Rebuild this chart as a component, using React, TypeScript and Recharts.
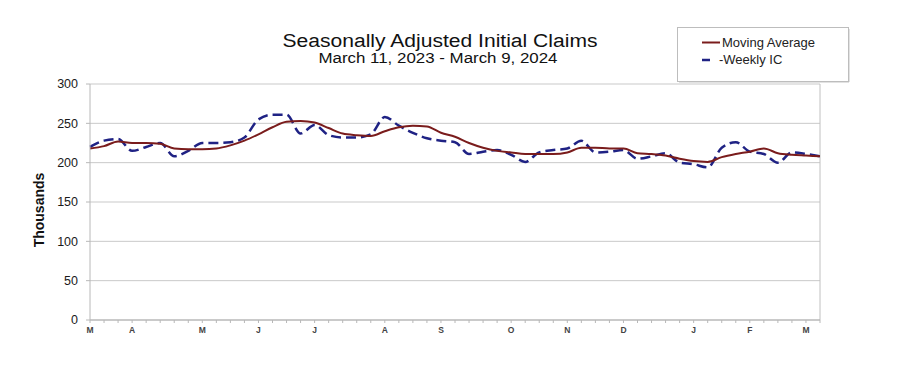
import React from 'react';
import { LineChart, Line, XAxis, YAxis, CartesianGrid, ReferenceLine } from 'recharts';

// weekly values, Mar 11 2023 .. Mar 9 2024 (thousands)
const weeklyIC = [
  220, 228, 230, 215, 220, 225, 208, 215, 225, 225, 226, 232, 255, 261, 261, 237, 248, 235,
  232, 232, 236, 258, 247, 238, 231, 228, 226, 211, 214, 216, 210, 201, 213, 216, 218, 228,
  213, 214, 216, 205, 208, 212, 200, 198, 194, 219, 226, 214, 211, 200, 213, 211, 208,
];
const movingAvg = [
  218, 221, 227, 225, 225, 224, 218, 217, 217, 218, 222, 228, 236, 245, 252, 253, 251, 244,
  237, 235, 234, 240, 245, 247, 246, 238, 233, 225, 219, 215, 213, 211, 211, 211, 213, 219,
  219, 218, 218, 212, 211, 209, 205, 202, 201, 207, 211, 214, 218, 212, 210, 209, 208,
];
const monthLabels = ['M', 'A', 'M', 'J', 'J', 'A', 'S', 'O', 'N', 'D', 'J', 'F', 'M'];
const monthStartWeeks = [0, 3, 8, 12, 16, 21, 25, 30, 34, 38, 43, 47, 51];
const yTicks = [0, 50, 100, 150, 200, 250, 300];

const weeks = weeklyIC.map((_, i) => i);
const data = weeks.map((w) => ({ week: w, ic: weeklyIC[w], ma: movingAvg[w] }));

const FONT = '"Liberation Sans", Arial, sans-serif';
const MA_COLOR = '#7a1c1c';
const IC_COLOR = '#1f2284';

const MonthTick = ({ x, y, payload }: any) => {
  const idx = monthStartWeeks.indexOf(payload.value);
  if (idx < 0) return <g />;
  return (
    <text x={x} y={y} dy="0.71em" textAnchor="middle" fontSize={8.5} fontWeight="bold" fill="#444" fontFamily={FONT}>
      {monthLabels[idx]}
    </text>
  );
};

const LegendBox = () => (
  <svg width={174} height={57} style={{ position: 'absolute', left: 677, top: 27 }}>
    <rect x={0.5} y={0.5} width={171} height={54} fill="#fff" stroke="#bdbdbd" />
    <line x1={2} y1={55.5} x2={172} y2={55.5} stroke="#e2e2e2" />
    <line x1={172.5} y1={2} x2={172.5} y2={55} stroke="#e2e2e2" />
    <line x1={25} y1={15.5} x2={43} y2={15.5} stroke={MA_COLOR} strokeWidth={2} />
    <text x={45} y={19.5} fontSize={13} fill="#222" fontFamily={FONT}>Moving Average</text>
    <line x1={25} y1={33} x2={33} y2={33} stroke={IC_COLOR} strokeWidth={2.5} />
    <text x={42} y={37} fontSize={13} fill="#222" fontFamily={FONT}>-Weekly IC</text>
  </svg>
);

export default function App() {
  return (
    <div style={{ position: 'absolute', left: 0, top: 0, width: 900, height: 374, background: '#fff', fontFamily: FONT }}>
      <LineChart width={900} height={374} data={data} margin={{ top: 84, right: 80, bottom: 24, left: 40 }}>
        <CartesianGrid vertical={false} stroke="#c9c9c9" />
        <XAxis
          dataKey="week"
          type="number"
          domain={[0, 52]}
          ticks={weeks}
          interval={0}
          height={30}
          axisLine={{ stroke: '#b0b0b0' }}
          tickLine={{ stroke: '#b8b8b8' }}
          tickSize={3}
          tickMargin={4}
          tick={<MonthTick />}
        />
        <YAxis
          domain={[0, 300]}
          ticks={yTicks}
          interval={0}
          width={50}
          axisLine={{ stroke: '#b8b8b8' }}
          tickLine={{ stroke: '#b8b8b8' }}
          tickSize={4}
          tickMargin={8}
          tick={{ fill: '#1a1a1a', fontSize: 12.5, fontFamily: FONT }}
        />
        <ReferenceLine x={52} stroke="#c0c0c0" />
        <Line
          type="monotone"
          dataKey="ic"
          stroke={IC_COLOR}
          strokeWidth={2.5}
          strokeDasharray="10 5"
          dot={false}
          activeDot={false}
          isAnimationActive={false}
        />
        <Line
          type="monotone"
          dataKey="ma"
          stroke={MA_COLOR}
          strokeWidth={2}
          dot={false}
          activeDot={false}
          isAnimationActive={false}
        />
      </LineChart>
      <LegendBox />
      <svg width={900} height={374} style={{ position: 'absolute', left: 0, top: 0, pointerEvents: 'none' }}>
        <text x={440} y={47} textAnchor="middle" fontSize={18} fill="#111" fontFamily={FONT} textLength={315} lengthAdjust="spacingAndGlyphs">
          Seasonally Adjusted Initial Claims
        </text>
        <text x={438} y={63} textAnchor="middle" fontSize={14} fill="#111" fontFamily={FONT} textLength={239} lengthAdjust="spacingAndGlyphs">
          March 11, 2023 - March 9, 2024
        </text>
        <text x={43.5} y={210} transform="rotate(-90 43.5 210)" textAnchor="middle" fontSize={14} fontWeight="bold" fill="#111" fontFamily={FONT}>
          Thousands
        </text>
      </svg>
    </div>
  );
}
